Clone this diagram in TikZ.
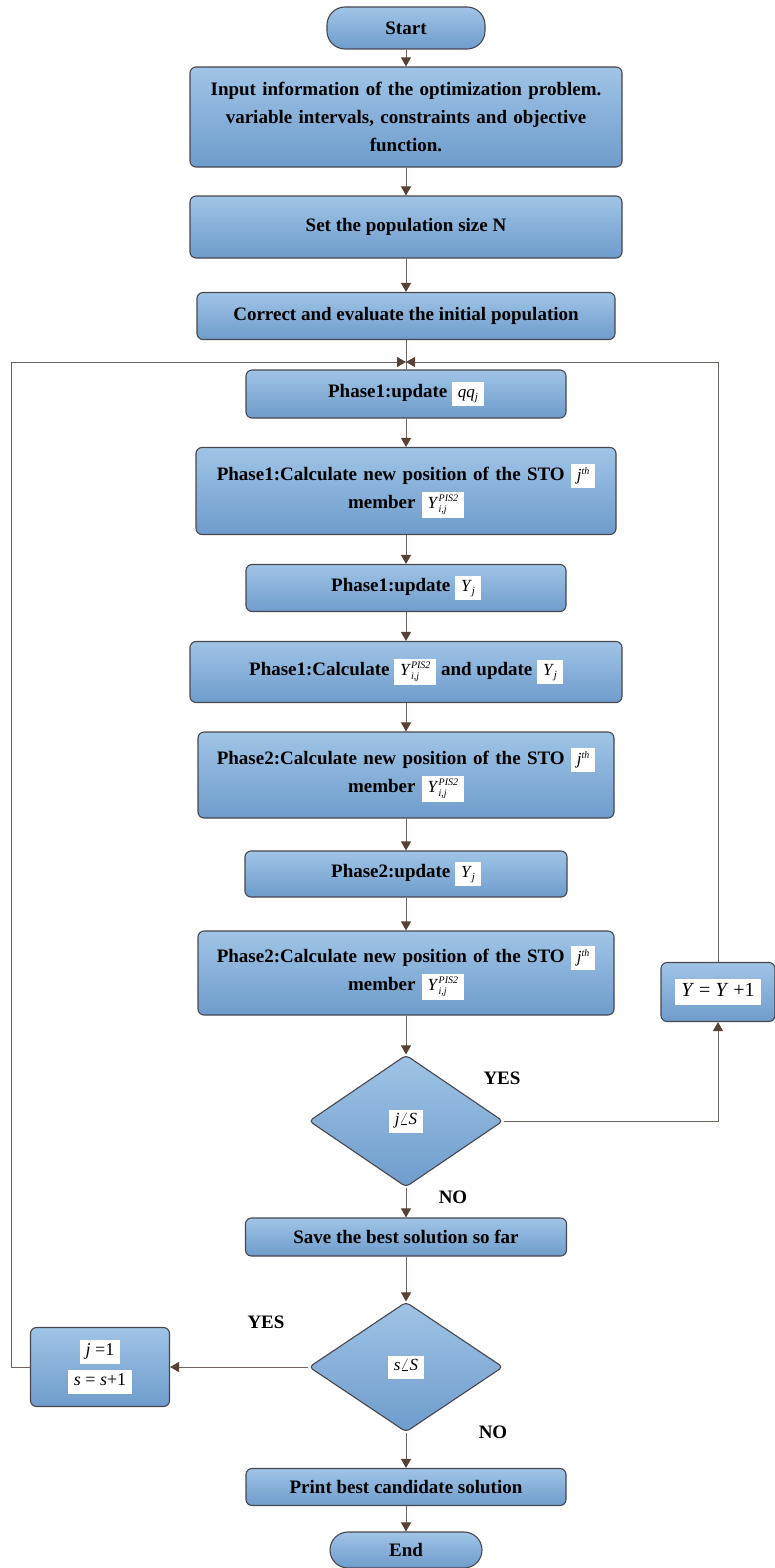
\documentclass[tikz,border=0pt]{standalone}
\usepackage{fix-cm}
\usepackage{fontspec}
\setmainfont{Liberation Serif}
\usetikzlibrary{arrows.meta,shapes.geometric,calc}
\definecolor{btop}{RGB}{160,196,230}
\definecolor{bbot}{RGB}{110,156,204}
\definecolor{bline}{RGB}{72,70,78}
\definecolor{cline}{RGB}{112,100,96}
\definecolor{ahead}{RGB}{88,66,56}
\newcommand{\wb}[2][17]{\colorbox{white}{\normalfont\fontsize{#1}{#1}\selectfont\strut\,#2\,}}
\newcommand{\sz}[1]{\fontsize{#1}{#1}\selectfont}
\newcommand{\Ypis}{\textit{Y}\rlap{\raisebox{-4.5pt}{\sz{10}\textit{i,j}}}\raisebox{6.5pt}{\sz{10}\textit{PIS2}}}
\newcommand{\Yj}{\textit{Y}\raisebox{-3pt}{\sz{11}\textit{j}}}
\newcommand{\qqj}{\textit{qq}\raisebox{-3pt}{\sz{11}\textit{j}}}
\newcommand{\jth}{\textit{j}\raisebox{6pt}{\sz{10}\textit{th}}}
\setlength{\fboxsep}{3pt}
\tikzset{
  proc/.style={draw=bline, line width=1.1pt, rounded corners=6pt, top color=btop, bottom color=bbot,
    align=center, font=\fontsize{19}{28}\selectfont\bfseries, inner sep=2pt},
  term/.style={proc, rounded corners=18pt},
  dec/.style={diamond, draw=bline, line width=1.1pt, top color=btop, bottom color=bbot,
    inner sep=0pt, rounded corners=4pt},
  conn/.style={draw=cline, line width=1pt},
  arr/.style={conn, -{Triangle[length=9pt,width=10pt,color=ahead]}},
  lbl/.style={font=\fontsize{19}{22}\selectfont\bfseries},
}
\begin{document}
\begin{tikzpicture}[x=1pt,y=-1pt]
\useasboundingbox (0,0) rectangle (775,1568);
\node[term, minimum width=158pt, minimum height=42pt] (start) at (406,28) {Start};
\node[proc, minimum width=432pt, minimum height=100pt, text width=420pt] (input) at (406,117)
  {Input information of the optimization problem.\\ variable intervals, constraints and objective\\ function.};
\node[proc, minimum width=432pt, minimum height=62pt] (setpop) at (406,227) {Set the population size N};
\node[proc, minimum width=418pt, minimum height=47pt] (correct) at (406,316) {Correct and evaluate the initial population};
\coordinate (J) at (406,362);
\node[proc, minimum width=320pt, minimum height=48pt] (p1q) at (406,394) {Phase1:update \wb{\qqj}};
\node[proc, minimum width=420pt, minimum height=87pt, text width=414pt] (p1calc) at (406,491)
  {Phase1:Calculate new position of the STO \wb{\jth}\\ member \wb{\Ypis}};
\node[proc, minimum width=320pt, minimum height=47pt] (p1upd) at (406,588) {Phase1:update \wb{\Yj}};
\node[proc, minimum width=432pt, minimum height=61pt] (p1cy) at (406,672)
  {Phase1:Calculate \wb{\Ypis} and update \wb{\Yj}};
\node[proc, minimum width=416pt, minimum height=86pt, text width=410pt] (p2calc) at (406,775)
  {Phase2:Calculate new position of the STO \wb{\jth}\\ member \wb{\Ypis}};
\node[proc, minimum width=322pt, minimum height=46pt] (p2upd) at (406,874) {Phase2:update \wb{\Yj}};
\node[proc, minimum width=416pt, minimum height=84pt, text width=410pt] (p2calc2) at (406,973)
  {Phase2:Calculate new position of the STO \wb{\jth}\\ member \wb{\Ypis}};
\node[dec, minimum width=194pt, minimum height=132pt] (d1) at (406,1121) {\wb{\textit{j}$\angle$\textit{S}}};
\node[proc, minimum width=114pt, minimum height=59pt] (yinc) at (718,992) {\wb[20]{\textit{Y} = \textit{Y} +1}};
\node[proc, minimum width=321pt, minimum height=38pt] (save) at (406,1237) {Save the best solution so far};
\node[dec, minimum width=194pt, minimum height=130pt] (d2) at (406,1367) {\wb{\textit{s}$\angle$\textit{S}}};
\node[proc, minimum width=139pt, minimum height=79pt] (jbox) at (100,1367) {\wb[18]{\textit{j} =1}\\[2pt]\wb[18]{\textit{s} = \textit{s}+1}};
\node[proc, minimum width=320pt, minimum height=37pt] (print) at (406,1487) {Print best candidate solution};
\node[term, minimum width=152pt, minimum height=36pt] (end) at (406,1550) {End};
\node[lbl] (yes1) at (502,1078) {YES};
\node[lbl] (no1) at (453,1197) {NO};
\node[lbl] (yes2) at (266,1322) {YES};
\node[lbl] (no2) at (493,1432) {NO};
\coordinate (Lc) at (11,1367);
\draw[arr] (start) -- (input);
\draw[arr] (input) -- (setpop);
\draw[arr] (setpop) -- (correct);
\draw[conn] (correct) -- (p1q);
\draw[arr] (p1q) -- (p1calc);
\draw[arr] (p1calc) -- (p1upd);
\draw[arr] (p1upd) -- (p1cy);
\draw[arr] (p1cy) -- (p2calc);
\draw[arr] (p2calc) -- (p2upd);
\draw[arr] (p2upd) -- (p2calc2);
\draw[arr] (p2calc2) -- (d1);
\draw[arr] (d1.east) -| (yinc.south);
\draw[arr] (yinc.north) |- (J);
\draw[arr] (d1) -- (save);
\draw[arr] (save) -- (d2);
\draw[arr] (d2.west) -- (jbox.east);
\draw[arr] (jbox.west) -- (Lc) |- (J);
\draw[arr] (d2) -- (print);
\draw[arr] (print) -- (end);
\end{tikzpicture}
\end{document}
